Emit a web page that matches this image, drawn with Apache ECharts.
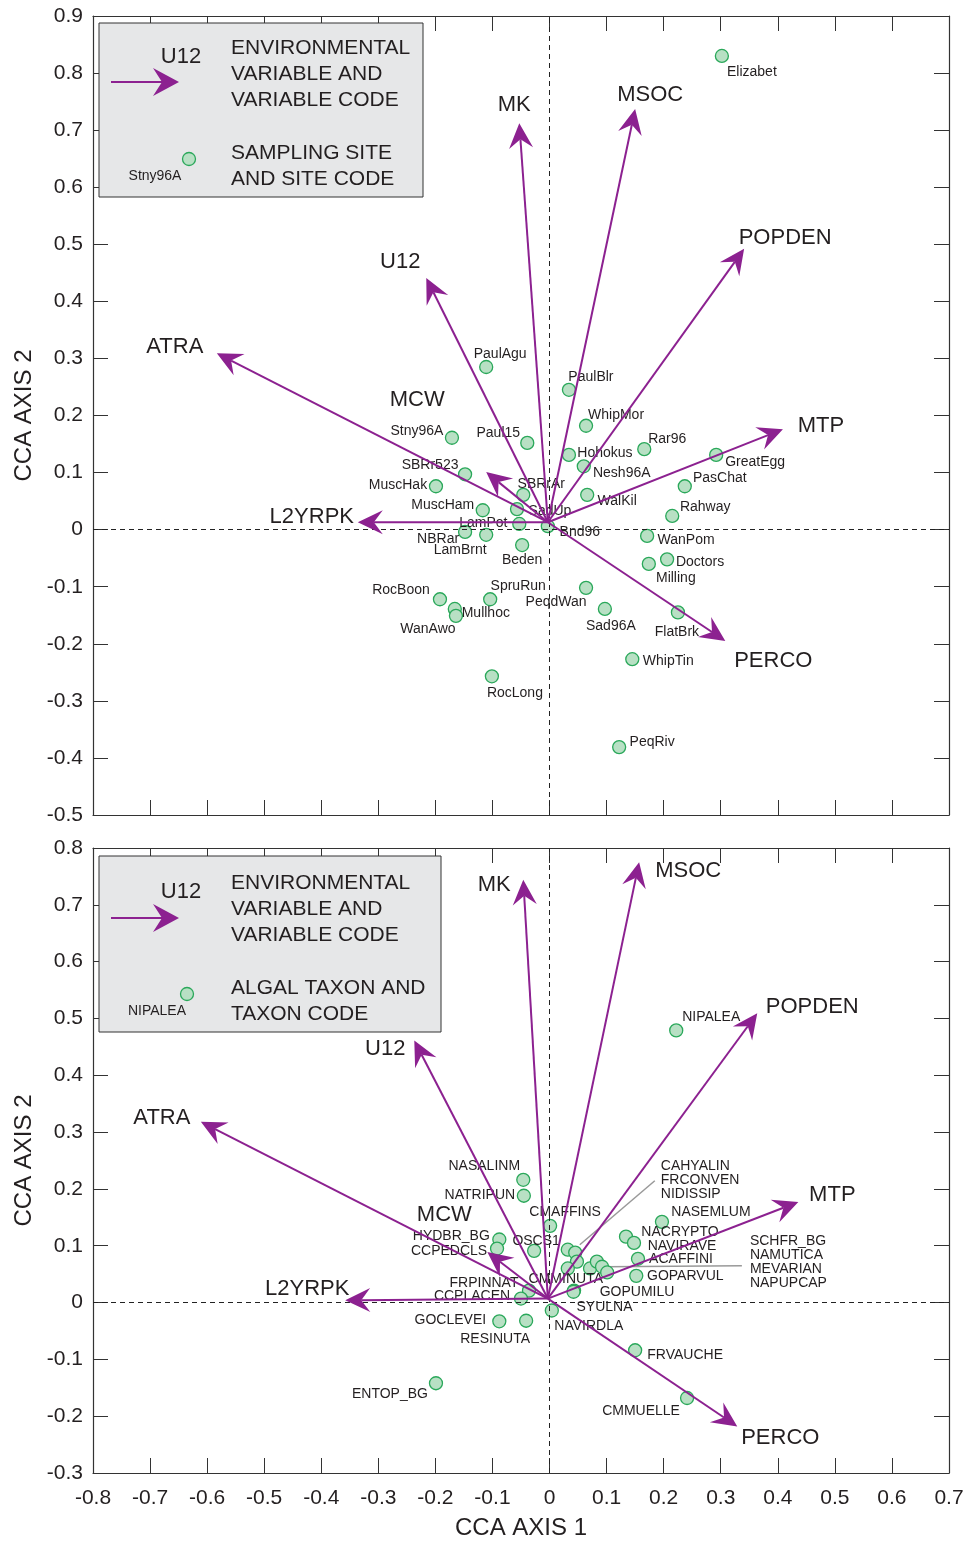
<!DOCTYPE html>
<html><head><meta charset="utf-8">
<script src="https://cdn.jsdelivr.net/npm/echarts@6/dist/echarts.min.js"></script>
<style>html,body{margin:0;padding:0;background:#fff}#c{width:967px;height:1541px}</style>
</head><body><div id="c"></div>
<script>
// ---------------- DATA ----------------
const xRange = [-0.8, 0.7];
const topYRange = [-0.5, 0.9];
const bottomYRange = [-0.3, 0.8];
const axisTitleX = 'CCA AXIS 1';
const axisTitleY = 'CCA AXIS 2';

// Top panel: sampling sites
const siteNames = ['Elizabet','PaulAgu','PaulBlr','WhipMor','Stny96A','Paul15','Rar96','Hohokus','GreatEgg','Nesh96A','SBRr523','PasChat','MuscHak','WalKil','SBRrAr','MuscHam','SadUp','Rahway','LamPot','Bnd96','NBRar','LamBrnt','WanPom','Beden','Doctors','Milling','PeqdWan','SpruRun','RocBoon','Mullhoc','WanAwo','Sad96A','FlatBrk','WhipTin','RocLong','PeqRiv'];
const siteX = [0.302,-0.111,0.034,0.064,-0.171,-0.039,0.166,0.034,0.292,0.060,-0.148,0.237,-0.199,0.066,-0.046,-0.117,-0.057,0.215,-0.053,-0.003,-0.148,-0.111,0.171,-0.048,0.206,0.174,0.064,-0.104,-0.192,-0.166,-0.164,0.097,0.225,0.145,-0.101,0.122];
const siteY = [0.830,0.285,0.245,0.182,0.161,0.152,0.141,0.131,0.131,0.111,0.097,0.076,0.076,0.061,0.061,0.034,0.036,0.024,0.010,0.006,-0.004,-0.009,-0.011,-0.027,-0.052,-0.060,-0.102,-0.122,-0.122,-0.139,-0.151,-0.139,-0.145,-0.227,-0.257,-0.381];

// Environmental variable vectors (top)
const envNames = ['MK','MSOC','POPDEN','MTP','PERCO','L2YRPK','ATRA','U12','MCW'];
const siteEnvX = [-0.053,0.150,0.341,0.409,0.308,-0.336,-0.583,-0.216,-0.111];
const siteEnvY = [0.712,0.737,0.492,0.176,-0.195,0.013,0.309,0.441,0.101];
const siteEnvOrigin = [-0.003, 0.013];

// Bottom panel: algal taxa
const taxonNames = ['NIPALEA','NASALINM','NATRIPUN','NASEMLUM','CMAFFINS','HYDBR_BG','CCPEDCLS','OSCS1','NACRYPTO','NAVIRAVE','ACAFFINI','GOPARVUL','CAHYALIN','FRCONVEN','NIDISSIP','CMMINUTA','SCHFR_BG','NAMUTICA','MEVARIAN','NAPUPCAP','GOPUMILU','SYULNA','FRPINNAT','CCPLACEN','NAVIRDLA','GOCLEVEI','RESINUTA','FRVAUCHE','CMMUELLE','ENTOP_BG'];
const taxonX = [0.222,-0.046,-0.045,0.197,0.001,-0.088,-0.092,-0.027,0.134,0.148,0.155,0.152,0.032,0.045,0.048,0.032,0.071,0.083,0.092,0.101,0.043,0.042,-0.036,-0.050,0.004,-0.088,-0.041,0.150,0.241,-0.199];
const taxonY = [0.479,0.216,0.188,0.142,0.135,0.111,0.095,0.091,0.116,0.105,0.077,0.047,0.093,0.088,0.072,0.060,0.060,0.072,0.063,0.053,0.021,0.019,0.021,0.007,-0.014,-0.033,-0.032,-0.084,-0.168,-0.142];

// Environmental variable vectors (bottom)
const taxonEnvX = [-0.046,0.157,0.364,0.436,0.329,-0.358,-0.611,-0.237,-0.109];
const taxonEnvY = [0.744,0.775,0.509,0.177,-0.218,0.004,0.318,0.461,0.089];
const taxonEnvOrigin = [-0.003, 0.007];

// ---------------- LAYOUT (pixel label offsets) ----------------
const siteLabelOffset = {
  Elizabet:[30,16],PaulAgu:[14,-13],PaulBlr:[22,-13],WhipMor:[30,-11],Stny96A:[-35,-7],Paul15:[-29,-10],
  Rar96:[23,-10],Hohokus:[36,-2],GreatEgg:[39,7],Nesh96A:[38,7],SBRr523:[-35,-9],PasChat:[35,-8],
  MuscHak:[-38,-1],WalKil:[30,6],SBRrAr:[18,-11],MuscHam:[-40,-5],SadUp:[33,2],Rahway:[33,-9],
  LamPot:[-36,-1],Bnd96:[32,6],NBRar:[-27,7],LamBrnt:[-26,15],WanPom:[39,4],Beden:[0,15],
  Doctors:[33,3],Milling:[27,14],PeqdWan:[-30,14],SpruRun:[28,-13],RocBoon:[-39,-9],Mullhoc:[31,4],
  WanAwo:[-28,13],Sad96A:[6,17],FlatBrk:[-1,20],WhipTin:[36,2],RocLong:[23,17],PeqRiv:[33,-5]
};
const taxonLabelOffset = {
  NIPALEA:[35,-13],NASALINM:[-39,-14],NATRIPUN:[-44,-1],NASEMLUM:[49,-10],CMAFFINS:[15,-14],
  HYDBR_BG:[-48,-3],CCPEDCLS:[-48,3],OSCS1:[2,-10],NACRYPTO:[54,-4],NAVIRAVE:[48,3],ACAFFINI:[43,0],
  GOPARVUL:[49,0],CMMINUTA:[-2,11],GOPUMILU:[63,2],SYULNA:[31,15],FRPINNAT:[-45,-7],CCPLACEN:[-49,-2],
  NAVIRDLA:[37,16],GOCLEVEI:[-49,-1],RESINUTA:[-31,18],FRVAUCHE:[50,5],CMMUELLE:[-46,13],ENTOP_BG:[-46,11]
};
// grouped labels with leader lines
const taxonGroups = [
  {anchor:'CAHYALIN', text:'CAHYALIN\nFRCONVEN\nNIDISSIP', offset:[93,-70], leader:[[12,-5],[87,-69]]},
  {anchor:'NAMUTICA', text:'SCHFR_BG\nNAMUTICA\nMEVARIAN\nNAPUPCAP', offset:[153,1], leader:[[8,5],[145,4]]}
];
const siteEnvLabelOffset = [[-5,-18],[15,-14],[41,-11],[38,-3],[48,20],[-46,-5],[-42,-6],[-26,-16],[-69,-72]];
const taxonEnvLabelOffset = [[-29,5],[49,9],[55,-6],[34,-7],[43,12],[-38,-11],[-39,-4],[-29,8],[-43,-37]];

// ---------------- STYLE ----------------
const FONT = '"Liberation Sans", Arial, Helvetica, sans-serif';
const TXT = '#231f20';
const PURPLE = '#8c2190';
const PT_FILL = '#b8e0c4';
const PT_STROKE = '#2aa85a';

const chart = echarts.init(document.getElementById('c'), null, {renderer:'canvas'});

function fmt(v){ return String(Math.round(v*10)/10); }

function xAxisDef(grid, pos, labels, name){
  return {
    type:'value', gridIndex:grid, position:pos, min:xRange[0], max:xRange[1], interval:0.1,
    axisLine:{show:true, onZero:false, lineStyle:{color:'#333', width:1.2}},
    axisTick:{show:true, inside:true, length:15, lineStyle:{color:'#333', width:1}},
    splitLine:{show:false},
    axisLabel:{show:labels, formatter:fmt, fontSize:21, color:TXT, fontFamily:FONT, margin:15, showMinLabel:true, showMaxLabel:true},
    name: name || '', nameLocation:'middle', nameGap:43,
    nameTextStyle:{fontSize:24, color:TXT, fontFamily:FONT}
  };
}
function yAxisDef(grid, pos, range, labels, name){
  return {
    type:'value', gridIndex:grid, position:pos, min:range[0], max:range[1], interval:0.1,
    axisLine:{show:true, onZero:false, lineStyle:{color:'#333', width:1.2}},
    axisTick:{show:true, inside:true, length:15, lineStyle:{color:'#333', width:1}},
    splitLine:{show:false},
    axisLabel:{show:labels, formatter:fmt, fontSize:21, color:TXT, fontFamily:FONT, margin:10, showMinLabel:true, showMaxLabel:true},
    name: name || '', nameLocation:'middle', nameGap:56, nameRotate:90,
    nameTextStyle:{fontSize:24, color:TXT, fontFamily:FONT}
  };
}

function pointData(names, xs, ys, offsets, groups){
  return names.map((n,i)=>{
    const g = groups ? groups.find(o=>o.anchor===n) : null;
    const item = {name:n, value:[xs[i], ys[i]]};
    if (g) {
      item.label = {show:true, formatter:g.text, align:'left', lineHeight:14};
    } else if (offsets[n]) {
      item.label = {show:true};
    } else {
      item.label = {show:false};
    }
    return item;
  });
}
function offsetList(names, offsets, groups){
  return names.map(n=>{
    const g = groups ? groups.find(o=>o.anchor===n) : null;
    if (g) return g.offset;
    return offsets[n] || [0,0];
  });
}

function scatterSeries(gridIdx, data, offs){
  return {
    type:'scatter', xAxisIndex:gridIdx*2, yAxisIndex:gridIdx*2, z:3,
    symbol:'circle', symbolSize:13,
    itemStyle:{color:PT_FILL, borderColor:PT_STROKE, borderWidth:1.3, opacity:1},
    label:{show:true, position:'inside', formatter:'{b}', fontSize:14, color:TXT, fontFamily:FONT, align:'center', verticalAlign:'middle'},
    labelLayout:function(params){ const o = offs[params.dataIndex]; return {dx:o[0], dy:o[1], hideOverlap:false}; },
    emphasis:{disabled:true},
    data:data,
    markLine:{
      silent:true, symbol:'none', animation:false,
      label:{show:false},
      lineStyle:{type:[5,4], color:'#222', width:1},
      data:[{xAxis:0},{yAxis:0}]
    }
  };
}

function arrowSeries(gridIdx, names, xs, ys, origin, labelOffsets){
  const data = names.map((n,i)=>({name:n, value:[origin[0], origin[1], xs[i], ys[i]]}));
  return {
    type:'custom', xAxisIndex:gridIdx*2, yAxisIndex:gridIdx*2, z:5,
    silent:true, animation:false,
    data:data,
    renderItem:function(params, api){
      const o = api.coord([api.value(0), api.value(1)]);
      const t = api.coord([api.value(2), api.value(3)]);
      const dx = t[0]-o[0], dy = t[1]-o[1];
      const len = Math.sqrt(dx*dx+dy*dy);
      const ux = dx/len, uy = dy/len;
      const nx = -uy, ny = ux;
      const L = 25, N = 16, W = 12;
      const back = [t[0]-L*ux, t[1]-L*uy];
      const notch = [t[0]-N*ux, t[1]-N*uy];
      const lo = labelOffsets[params.dataIndex];
      return {
        type:'group',
        children:[
          {type:'line', shape:{x1:o[0], y1:o[1], x2:notch[0], y2:notch[1]}, style:{stroke:PURPLE, lineWidth:2}},
          {type:'polygon', shape:{points:[t,[back[0]+W*nx, back[1]+W*ny], notch, [back[0]-W*nx, back[1]-W*ny]]}, style:{fill:PURPLE}},
          {type:'text', x:t[0]+lo[0], y:t[1]+lo[1], style:{text:names[params.dataIndex], fill:TXT, font:'22px '+FONT, textAlign:'center', textVerticalAlign:'middle'}}
        ]
      };
    }
  };
}

const option = {
  animation:false,
  backgroundColor:'#fff',
  textStyle:{fontFamily:FONT},
  grid:[
    {left:93, top:16, width:856, height:799},
    {left:93, top:848, width:856, height:627}
  ],
  xAxis:[
    xAxisDef(0,'bottom',false),
    xAxisDef(0,'top',false),
    xAxisDef(1,'bottom',true, axisTitleX),
    xAxisDef(1,'top',false)
  ],
  yAxis:[
    yAxisDef(0,'left',topYRange,true, axisTitleY),
    yAxisDef(0,'right',topYRange,false),
    yAxisDef(1,'left',bottomYRange,true, axisTitleY),
    yAxisDef(1,'right',bottomYRange,false)
  ],
  series:[
    scatterSeries(0, pointData(siteNames, siteX, siteY, siteLabelOffset), offsetList(siteNames, siteLabelOffset)),
    arrowSeries(0, envNames, siteEnvX, siteEnvY, siteEnvOrigin, siteEnvLabelOffset),
    scatterSeries(1, pointData(taxonNames, taxonX, taxonY, taxonLabelOffset, taxonGroups), offsetList(taxonNames, taxonLabelOffset, taxonGroups)),
    arrowSeries(1, envNames, taxonEnvX, taxonEnvY, taxonEnvOrigin, taxonEnvLabelOffset)
  ]
};
chart.setOption(option);

// ---------------- Legends & leader lines (graphic) ----------------
function legendBox(x, y, w, h, arrowY, u12Y, lines1, ys1, ptX, ptY, ptLabel, ptLabelX, ptLabelY, lines2, ys2){
  const els = [];
  els.push({type:'rect', shape:{x:x, y:y, width:w, height:h}, style:{fill:'#e6e7e8', stroke:'#333', lineWidth:1}, z:10});
  els.push({type:'line', shape:{x1:111, y1:arrowY, x2:163, y2:arrowY}, style:{stroke:PURPLE, lineWidth:2}, z:11});
  els.push({type:'polygon', shape:{points:[[179,arrowY],[153,arrowY-14],[162,arrowY],[153,arrowY+14]]}, style:{fill:PURPLE}, z:11});
  els.push({type:'text', x:181, y:u12Y, style:{text:'U12', fill:TXT, font:'22px '+FONT, textAlign:'center', textVerticalAlign:'middle'}, z:11});
  lines1.forEach((t,i)=>els.push({type:'text', x:231, y:ys1[i], style:{text:t, fill:TXT, font:'21px '+FONT, textAlign:'left', textVerticalAlign:'middle'}, z:11}));
  els.push({type:'circle', shape:{cx:ptX, cy:ptY, r:6.5}, style:{fill:PT_FILL, stroke:PT_STROKE, lineWidth:1.3}, z:11});
  els.push({type:'text', x:ptLabelX, y:ptLabelY, style:{text:ptLabel, fill:TXT, font:'14px '+FONT, textAlign:'center', textVerticalAlign:'middle'}, z:11});
  lines2.forEach((t,i)=>els.push({type:'text', x:231, y:ys2[i], style:{text:t, fill:TXT, font:'21px '+FONT, textAlign:'left', textVerticalAlign:'middle'}, z:11}));
  return els;
}

const graphics = [].concat(
  legendBox(99, 23, 324, 174, 82, 57, ['ENVIRONMENTAL','VARIABLE AND','VARIABLE CODE'], [48,74,100], 189, 159, 'Stny96A', 155, 176, ['SAMPLING SITE','AND SITE CODE'], [153,179]),
  legendBox(99, 856, 342, 176, 918, 892, ['ENVIRONMENTAL','VARIABLE AND','VARIABLE CODE'], [883,909,935], 187, 994, 'NIPALEA', 157, 1011, ['ALGAL TAXON AND','TAXON CODE'], [988,1014])
);
taxonGroups.forEach(g=>{
  const i = taxonNames.indexOf(g.anchor);
  const p = chart.convertToPixel({gridIndex:1}, [taxonX[i], taxonY[i]]);
  graphics.push({type:'line', shape:{x1:p[0]+g.leader[0][0], y1:p[1]+g.leader[0][1], x2:p[0]+g.leader[1][0], y2:p[1]+g.leader[1][1]}, style:{stroke:'#999', lineWidth:1.5}, z:2});
});
chart.setOption({graphic:graphics});
</script>
</body></html>
